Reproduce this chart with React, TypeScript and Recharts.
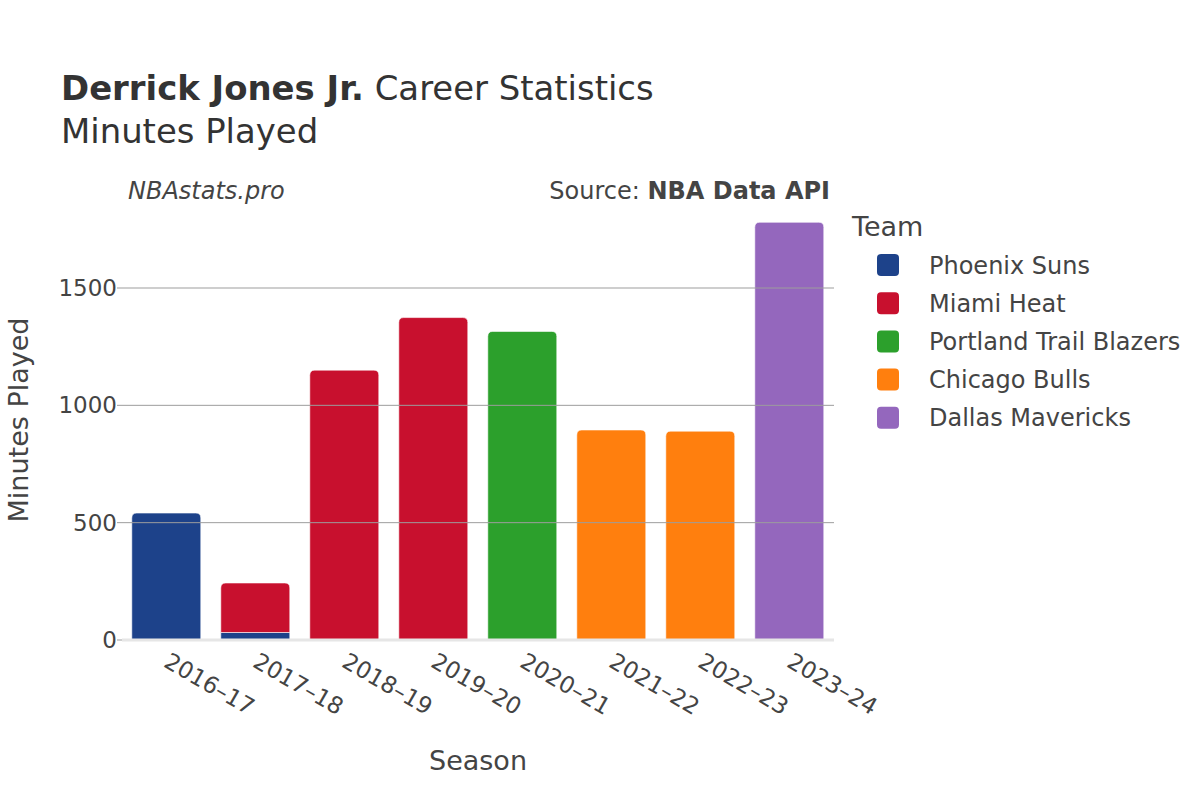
import React from "react";
import { Bar, BarChart, Legend, ReferenceLine, XAxis, YAxis } from "recharts";

const seasons = ["2016–17", "2017–18", "2018–19", "2019–20", "2020–21", "2021–22", "2022–23", "2023–24"];

const teams = ["Phoenix Suns", "Miami Heat", "Portland Trail Blazers", "Chicago Bulls", "Dallas Mavericks"];
const teamColors = ["#1d428a", "#c8102e", "#2ca02c", "#ff7f0e", "#9467bd"];

const phoenixSuns = [541, 32, null, null, null, null, null, null];
const miamiHeat = [null, 211, 1150, 1374, null, null, null, null];
const portlandTrailBlazers = [null, null, null, null, 1315, null, null, null];
const chicagoBulls = [null, null, null, null, null, 895, 890, null];
const dallasMavericks = [null, null, null, null, null, null, null, 1780];

const yTicks = [0, 500, 1000, 1500];

const teamValues = [phoenixSuns, miamiHeat, portlandTrailBlazers, chicagoBulls, dallasMavericks];

const data = seasons.map((season, i) => {
    const row: Record<string, any> = { season };
    teams.forEach((team, t) => {
        row[team] = teamValues[t][i];
    });
    return row;
});

const FONT = "'DejaVu Sans', sans-serif";
const TEXT = "#444";

const SegmentShape = (props: any) => {
    const { x, y, width, height, fill, payload, teamIndex } = props;
    if (!height || height <= 0) return null;
    const isTop = !teams.slice(teamIndex + 1).some((t) => payload && payload[t]);
    const r = isTop ? Math.min(5, height / 2, width / 2) : 0;
    const d = `M${x},${y + height} L${x},${y + r} Q${x},${y} ${x + r},${y} L${x + width - r},${y} Q${x + width},${y} ${x + width},${y + r} L${x + width},${y + height} Z`;
    return <path d={d} fill={fill} stroke="#ffffff" strokeWidth={1} strokeOpacity={0.6} />;
};

const SeasonTick = (props: any) => {
    const { x, y, payload } = props;
    const ax = x - 4;
    const ay = y + 18;
    return (
        <text
            x={ax}
            y={ay}
            transform={`rotate(30, ${ax}, ${ay})`}
            textAnchor="start"
            fontFamily={FONT}
            fontSize={23}
            fill={TEXT}
        >
            {payload.value}
        </text>
    );
};

const TeamLegend = () => (
    <svg width={360} height={240}>
        <text x={12} y={36} fontFamily={FONT} fontSize={27} fill={TEXT}>
            Team
        </text>
        {teams.map((team, i) => (
            <g key={team}>
                <rect x={37} y={54 + i * 38.2} width={22} height={22} rx={4} fill={teamColors[i]} />
                <text x={89} y={65 + i * 38.2} dy="0.36em" fontFamily={FONT} fontSize={24} fill={TEXT}>
                    {team}
                </text>
            </g>
        ))}
    </svg>
);

const App: React.FC = () => {
    return (
        <div style={{ position: "absolute", left: 0, top: 0, width: 1200, height: 800, background: "#fff" }}>
            <BarChart
                width={1200}
                height={800}
                data={data}
                margin={{ top: 200, right: 366, bottom: 0, left: 0 }}
                barCategoryGap="11%"
            >
                <XAxis
                    dataKey="season"
                    height={160}
                    axisLine={false}
                    tickLine={false}
                    interval={0}
                    tick={<SeasonTick />}
                />
                <YAxis
                    width={122}
                    domain={[0, 1875]}
                    ticks={yTicks}
                    axisLine={false}
                    tickLine={{ stroke: "#9d9d9d" }}
                    tickSize={5}
                    tickMargin={0}
                    tick={{ fontFamily: FONT, fontSize: 23, fill: TEXT }}
                />
                {yTicks.slice(1).map((v) => (
                    <ReferenceLine key={v} y={v} stroke="#9d9d9d" strokeWidth={1} />
                ))}
                <ReferenceLine y={0} stroke="#e6e6e6" strokeWidth={3} />
                {teams.map((team, i) => (
                    <Bar
                        key={team}
                        dataKey={team}
                        stackId="minutes"
                        fill={teamColors[i]}
                        isAnimationActive={false}
                        shape={(p: any) => <SegmentShape {...p} teamIndex={i} />}
                    />
                ))}
                <Legend
                    layout="vertical"
                    align="center"
                    verticalAlign="middle"
                    wrapperStyle={{ left: 840, top: 200, width: 360, height: 240 }}
                    content={<TeamLegend />}
                />
            </BarChart>
            <svg
                width={1200}
                height={800}
                style={{ position: "absolute", left: 0, top: 0, pointerEvents: "none" }}
            >
                <text x={61} y={100} fontFamily={FONT} fontSize={33.9} fill="#333">
                    <tspan fontWeight="bold">Derrick Jones Jr.</tspan>
                    <tspan> Career Statistics</tspan>
                </text>
                <text x={61} y={143} fontFamily={FONT} fontSize={33.9} fill="#333">
                    Minutes Played
                </text>
                <text x={128} y={199} fontFamily={FONT} fontSize={24} fontStyle="italic" fill={TEXT}>
                    NBAstats.pro
                </text>
                <text x={830} y={199} textAnchor="end" fontFamily={FONT} fontSize={24} fill={TEXT}>
                    <tspan>Source: </tspan>
                    <tspan fontWeight="bold">NBA Data API</tspan>
                </text>
                <text
                    x={478}
                    y={770}
                    textAnchor="middle"
                    fontFamily={FONT}
                    fontSize={27}
                    fill={TEXT}
                >
                    Season
                </text>
                <text
                    x={0}
                    y={0}
                    transform="translate(28, 420) rotate(-90)"
                    textAnchor="middle"
                    fontFamily={FONT}
                    fontSize={27}
                    fill={TEXT}
                >
                    Minutes Played
                </text>
            </svg>
        </div>
    );
};

export default App;
